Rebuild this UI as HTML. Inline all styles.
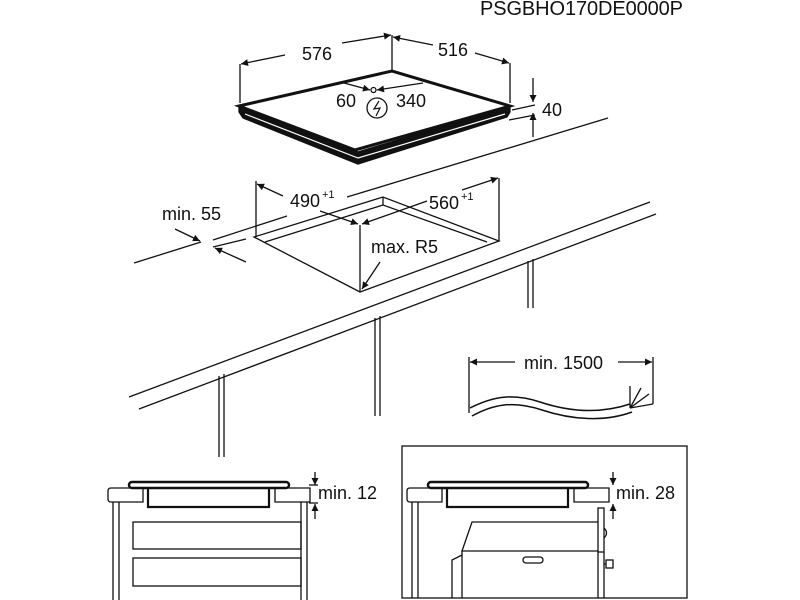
<!DOCTYPE html>
<html><head><meta charset="utf-8"><style>
html,body{margin:0;padding:0;background:#fff;}
svg{display:block;}
text{font-family:"Liberation Sans",Arial,sans-serif;fill:#111;}
</style></head><body>
<svg width="800" height="600" viewBox="0 0 800 600" xmlns="http://www.w3.org/2000/svg">
<defs>
<marker id="a" viewBox="0 0 10 10" refX="10" refY="5" markerWidth="9" markerHeight="7" orient="auto" markerUnits="userSpaceOnUse"><path d="M0,0 L10,5 L0,10 z" fill="#111"/></marker>
</defs>
<text x="480" y="15" font-size="20" textLength="203">PSGBHO170DE0000P</text>

<g stroke="#111" fill="none" stroke-width="1.3">
<!-- hob 3D -->
<polygon points="239,112 243,118 358,164 507,117 510,112 510,106 358,152 239,106" fill="#111" stroke="#111"/>
<polygon points="239,106 392,71 510,106 355,150" fill="#fff" stroke-width="3"/>
<polyline points="245,114 358,158 505,114" stroke="#fff" stroke-width="1.2"/>
<!-- extension lines -->
<line x1="240" y1="64" x2="240" y2="103"/>
<line x1="392" y1="35" x2="392" y2="71"/>
<line x1="510" y1="63" x2="510" y2="103"/>
<!-- 576 -->
<line x1="285" y1="55" x2="241" y2="64" marker-end="url(#a)"/>
<line x1="342" y1="43" x2="391" y2="35" marker-end="url(#a)"/>
<!-- 516 -->
<line x1="433" y1="45" x2="393" y2="37" marker-end="url(#a)"/>
<line x1="475" y1="53" x2="509" y2="63" marker-end="url(#a)"/>
<!-- 40 -->
<line x1="533" y1="78" x2="533" y2="102" marker-end="url(#a)"/>
<line x1="533" y1="137" x2="533" y2="113" marker-end="url(#a)"/>
<line x1="512" y1="110" x2="535" y2="105"/>
<line x1="509" y1="120" x2="535" y2="115"/>
<!-- 60/340 -->
<line x1="344" y1="83" x2="370" y2="90" marker-end="url(#a)"/>
<line x1="423" y1="83" x2="377" y2="90" marker-end="url(#a)"/>
<circle cx="373.5" cy="90" r="2.5" fill="#fff"/>
<circle cx="377" cy="108" r="10"/>
<path d="M379,101 L374,109 L380,108 L376,116" stroke-width="1.2"/>

<!-- countertop -->
<line x1="134" y1="263" x2="201" y2="242"/>
<line x1="213" y1="240" x2="287" y2="216"/>
<line x1="347" y1="197" x2="608" y2="118"/>
<line x1="213" y1="247" x2="246" y2="239"/>
<line x1="129" y1="397" x2="650" y2="202"/>
<line x1="139" y1="409" x2="656" y2="214"/>
<!-- legs -->
<line x1="219" y1="376" x2="219" y2="457"/><line x1="224" y1="374" x2="224" y2="457"/>
<line x1="375" y1="318" x2="375" y2="416"/><line x1="380" y1="316" x2="380" y2="416"/>
<line x1="528" y1="261" x2="528" y2="308"/><line x1="533" y1="259" x2="533" y2="308"/>
<!-- cutout -->
<polygon points="254,237 383,197 499,241 360,292" fill="#fff"/>
<polyline points="265,242 383,205 487,242"/>
<line x1="383" y1="197" x2="383" y2="205"/>
<line x1="360" y1="225" x2="360" y2="292"/>
<line x1="256" y1="181" x2="256" y2="237"/>
<line x1="499" y1="178" x2="499" y2="241"/>
<!-- 490 -->
<line x1="283" y1="196" x2="257" y2="184" marker-end="url(#a)"/>
<line x1="320" y1="211" x2="358" y2="224" marker-end="url(#a)"/>
<!-- 560 -->
<line x1="462" y1="190" x2="498" y2="178" marker-end="url(#a)"/>
<line x1="427" y1="201" x2="362" y2="224" marker-end="url(#a)"/>
<!-- R5 -->
<line x1="380" y1="262" x2="362" y2="289" marker-end="url(#a)"/>
<!-- min 55 -->
<line x1="175" y1="229" x2="200" y2="241" marker-end="url(#a)"/>
<line x1="246" y1="262" x2="215" y2="248" marker-end="url(#a)"/>

<!-- cable -->
<line x1="469" y1="357" x2="469" y2="413"/>
<line x1="653" y1="357" x2="653" y2="404"/>
<line x1="515" y1="362" x2="470" y2="362" marker-end="url(#a)"/>
<line x1="618" y1="362" x2="652" y2="362" marker-end="url(#a)"/>
<path d="M470,408 C490,398 510,392 540,402 C570,412 600,414 630,404" stroke-width="1.5"/>
<path d="M472,416 C492,405 512,400 542,410 C572,420 605,422 632,412" stroke-width="1.5"/>
<line x1="630" y1="408" x2="630" y2="386"/>
<line x1="630" y1="408" x2="641" y2="388"/>
<line x1="630" y1="408" x2="649" y2="394"/>
<line x1="630" y1="408" x2="653" y2="404"/>
</g>

<g font-size="18">
<text x="302" y="60">576</text>
<text x="438" y="56">516</text>
<text x="542" y="116">40</text>
<text x="336" y="107">60</text>
<text x="396" y="107">340</text>
<text x="290" y="207">490</text><text x="322" y="198" font-size="11">+1</text>
<text x="429" y="209">560</text><text x="461" y="200" font-size="11">+1</text>
<text x="371" y="253">max. R5</text>
<text x="162" y="220">min. 55</text>
<text x="524" y="369">min. 1500</text>
<text x="318" y="499">min. 12</text>
<text x="616" y="499">min. 28</text>
</g>

<!-- left bottom figure -->
<g stroke="#111" fill="none" stroke-width="1.3">
<rect x="129" y="482" width="160" height="6" rx="3" stroke-width="2.5"/>
<polyline points="148,488 148,507 269,507 269,488" stroke-width="2.2"/>
<path d="M143,488 L111,488 Q108,488 108,491 L108,499 Q108,502 111,502 L143,502 Z"/>
<path d="M275,488 L310,488 L310,502 L275,502 Z"/>
<line x1="315" y1="472" x2="315" y2="485" marker-end="url(#a)"/>
<line x1="315" y1="519" x2="315" y2="504" marker-end="url(#a)"/>
<line x1="309" y1="485" x2="318" y2="485"/><line x1="309" y1="503" x2="318" y2="503"/>
<line x1="113" y1="502" x2="113" y2="600"/><line x1="119" y1="502" x2="119" y2="600"/>
<line x1="301" y1="502" x2="301" y2="600"/><line x1="307" y1="502" x2="307" y2="600"/>
<rect x="133" y="522" width="168" height="27"/>
<rect x="133" y="558" width="168" height="28"/>

<!-- right figure -->
<rect x="402" y="446" width="285" height="152"/>
<rect x="428" y="482" width="160" height="6" rx="3" stroke-width="2.5"/>
<polyline points="447,488 447,507 568,507 568,488" stroke-width="2.2"/>
<path d="M442,488 L410,488 Q407,488 407,491 L407,499 Q407,502 410,502 L442,502 Z"/>
<path d="M574,488 L609,488 L609,502 L574,502 Z"/>
<line x1="613" y1="472" x2="613" y2="485" marker-end="url(#a)"/>
<line x1="613" y1="519" x2="613" y2="504" marker-end="url(#a)"/>
<line x1="412" y1="502" x2="412" y2="598"/><line x1="418" y1="502" x2="418" y2="598"/>
<polyline points="598,522 472,522 462,551 598,551"/>
<line x1="462" y1="551" x2="462" y2="598"/>
<polyline points="452,598 452,560 462,555"/>
<rect x="598" y="508" width="6" height="44"/>
<path d="M604,528 Q609,533 604,538"/>
<line x1="598" y1="552" x2="598" y2="598"/><line x1="604" y1="552" x2="604" y2="598"/>
<rect x="606" y="560" width="7" height="8"/><line x1="604" y1="564" x2="606" y2="564"/>
<rect x="523" y="557" width="20" height="6" rx="3"/>
</g>
</svg>
</body></html>
